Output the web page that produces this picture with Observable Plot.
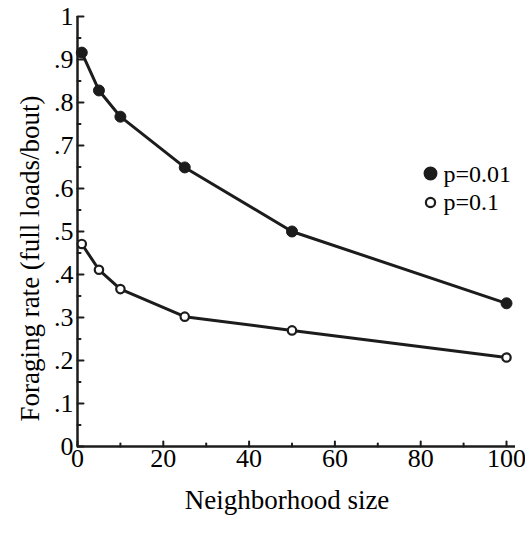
<!DOCTYPE html>
<html><head><meta charset="utf-8">
<script src="https://cdn.jsdelivr.net/npm/d3@7"></script>
<script src="https://cdn.jsdelivr.net/npm/@observablehq/plot@0.6"></script>
<style>
body{margin:0;background:#fff}
</style>
</head><body><div id="chart"></div>
<script>
const sizes = [1, 5, 10, 25, 50, 100];
const rateP001 = [0.916, 0.828, 0.767, 0.649, 0.500, 0.333];
const rateP01 = [0.471, 0.411, 0.366, 0.302, 0.270, 0.207];
const seriesNames = ["p=0.01", "p=0.1"];
const xTicks = [0, 20, 40, 60, 80, 100];
const xMinorTicks = [10, 30, 50, 70, 90];
const yTicks = [0, 0.1, 0.2, 0.3, 0.4, 0.5, 0.6, 0.7, 0.8, 0.9, 1];
const yMinorTicks = [0.05, 0.15, 0.25, 0.35, 0.45, 0.55, 0.65, 0.75, 0.85, 0.95];
const xLabel = "Neighborhood size";
const yLabel = "Foraging rate (full loads/bout)";

const rows = [
  ...sizes.map((s, i) => ({size: s, rate: rateP001[i], series: seriesNames[0]})),
  ...sizes.map((s, i) => ({size: s, rate: rateP01[i], series: seriesNames[1]}))
];
const filledRows = rows.filter(d => d.series === seriesNames[0]);
const openRows = rows.filter(d => d.series === seriesNames[1]);

const ink = "#1c1c1c";
const fam = "Times New Roman, Liberation Serif, serif";
const tickShape = {draw(ctx, l) { ctx.moveTo(0, 0); ctx.lineTo(0, -l); }};
const yFmt = d => d === 0 ? "0" : d === 1 ? "1" : d3.format(".1f")(d).replace(/^0/, "");

const chart = Plot.plot({
  width: 525, height: 533,
  marginLeft: 77, marginRight: 19, marginTop: 16, marginBottom: 87,
  x: {domain: [0, 100], axis: null},
  y: {domain: [0, 1], axis: null},
  marks: [
    Plot.text([xLabel], {text: d => d, frameAnchor: "bottom", dx: -5, dy: 62, lineAnchor: "bottom", textAnchor: "middle", fontSize: 27, fontFamily: fam}),
    Plot.text([yLabel], {text: d => d, frameAnchor: "left", dx: -47, dy: 27, rotate: -90, lineAnchor: "middle", textAnchor: "middle", fontSize: 27, fontFamily: fam}),
    Plot.axisX(xTicks, {tickSize: 0, tickPadding: 2, fontSize: 26, fontFamily: fam, tickFormat: d => String(d), label: null, anchor: "bottom"}),
    Plot.axisY(yTicks, {tickSize: 0, tickPadding: 4, fontSize: 26, fontFamily: fam, tickFormat: yFmt, label: null, anchor: "left"}),
    Plot.text([seriesNames[0]], {text: d => d, frameAnchor: "top-right", dx: -63, dy: 158, textAnchor: "start", lineAnchor: "middle", fontSize: 24, fontFamily: fam}),
    Plot.text([seriesNames[1]], {text: d => d, frameAnchor: "top-right", dx: -63, dy: 186, textAnchor: "start", lineAnchor: "middle", fontSize: 24, fontFamily: fam}),
    Plot.ruleY([0], {x1: 0, x2: 100, insetRight: -9, stroke: ink, strokeWidth: 2.5}),
    Plot.ruleX([0], {y1: 0, y2: 1, stroke: ink, strokeWidth: 2.5}),
    Plot.vector(xTicks, {x: d => d, y: 0, length: 5, rotate: 0, anchor: "start", shape: tickShape, stroke: ink, strokeWidth: 2, fill: "none"}),
    Plot.vector(xMinorTicks, {x: d => d, y: 0, length: 3, rotate: 0, anchor: "start", shape: tickShape, stroke: ink, strokeWidth: 2, fill: "none"}),
    Plot.vector(yTicks, {x: 0, y: d => d, length: 6, rotate: 90, anchor: "start", shape: tickShape, stroke: ink, strokeWidth: 2, fill: "none"}),
    Plot.vector(yMinorTicks, {x: 0, y: d => d, length: 3, rotate: 90, anchor: "start", shape: tickShape, stroke: ink, strokeWidth: 2, fill: "none"}),
    Plot.line(filledRows, {x: "size", y: "rate", stroke: ink, strokeWidth: 3}),
    Plot.line(openRows, {x: "size", y: "rate", stroke: ink, strokeWidth: 3}),
    Plot.dot(filledRows, {x: "size", y: "rate", r: 5.5, fill: ink, stroke: ink, strokeWidth: 1}),
    Plot.dot(openRows, {x: "size", y: "rate", r: 4.2, fill: "#fff", stroke: ink, strokeWidth: 2.2}),
    Plot.dot([seriesNames[0]], {frameAnchor: "top-right", dx: -76, dy: 157, r: 6.2, fill: ink, stroke: ink}),
    Plot.dot([seriesNames[1]], {frameAnchor: "top-right", dx: -76, dy: 186, r: 4.6, fill: "#fff", stroke: ink, strokeWidth: 2.2})
  ]
});
document.getElementById("chart").append(chart);
</script>
</body></html>
